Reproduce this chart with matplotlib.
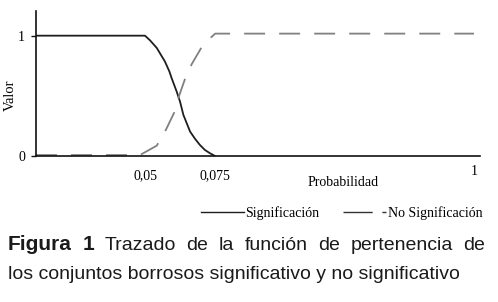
import numpy as np
import matplotlib
matplotlib.use("Agg")
import matplotlib.pyplot as plt
from matplotlib.lines import Line2D

# ---- data ----
sig_x = [0.0, 0.050, 0.0518, 0.0542, 0.0571, 0.0587, 0.0595, 0.0613, 0.0625, 0.0631,
         0.0637, 0.0661, 0.0679, 0.0696, 0.0714, 0.0732, 0.075]
sig_y = [1.0, 1.0, 0.961, 0.898, 0.786, 0.703, 0.648, 0.536, 0.453, 0.398,
         0.342, 0.203, 0.142, 0.092, 0.050, 0.023, 0.0]

nosig_x = [0.0, 0.0477, 0.0542, 0.0571, 0.0605, 0.0623, 0.0646, 0.0667, 0.0711,
           0.0739, 0.0757, 1.0]
nosig_y = [0.008, 0.008, 0.086, 0.200, 0.364, 0.508, 0.661, 0.764, 0.939,
           0.992, 1.017, 1.017]

x_ticks = [0.05, 0.075, 1.0]
x_ticklabels = ["0,05", "0,075", "1"]
y_ticks = [0, 1]
y_ticklabels = ["0", "1"]

series_names = ["Significación", "No Significación"]

caption_bold = ["Figura", "1"]
caption_line1 = ["Trazado", "de", "la", "función", "de", "pertenencia", "de"]
caption_line2 = "los conjuntos borrosos significativo y no significativo"

# piecewise axis (the original x axis is not linear)
_p = np.array([0.0, 0.05, 0.075, 1.0, 1.1])
_q = np.array([0.0, 109.0, 179.0, 438.0, 466.0])
def fwd(v):
    return np.interp(v, _p, _q)
def inv(v):
    return np.interp(v, _q, _p)

W, H = 498, 302
fig = plt.figure(figsize=(W / 100, H / 100), dpi=100)
ax = fig.add_axes([36 / W, 1 - 156 / H, 444 / W, 145 / H])
ax.set_xscale("function", functions=(fwd, inv))

serif = ["Liberation Serif", "DejaVu Serif"]
sans = ["Liberation Sans", "DejaVu Sans"]
FS = 10

ax.plot(sig_x, sig_y, color="#1e1e1e", lw=1.3, solid_joinstyle="round")
ax.plot(nosig_x, nosig_y, color="#808080", lw=1.3, dashes=(11.6, 7.8))

ax.set_xlim(0, inv(444.0))
ax.set_ylim(0, 1.205)

for s in ["top", "right"]:
    ax.spines[s].set_visible(False)
for s in ["left", "bottom"]:
    ax.spines[s].set_color("#111111")
    ax.spines[s].set_linewidth(1.2)

ax.set_xticks(x_ticks)
ax.set_xticklabels(x_ticklabels, fontfamily=serif, fontsize=FS)
ax.set_yticks(y_ticks)
ax.set_yticklabels(y_ticklabels, fontfamily=serif, fontsize=FS)
ax.tick_params(axis="x", length=0, pad=9.5)
ax.tick_params(axis="y", length=3.6, width=1.0, pad=4.3, color="#111111")
ax.get_xticklabels()[-1].set_y(0.03)

ax.text((343 - 36) / 444, (156 - 182) / 145, "Probabilidad", transform=ax.transAxes,
        ha="center", va="center", fontfamily=serif, fontsize=FS)
ax.text(-26 / 444, (156 - 95) / 145, "Valor", transform=ax.transAxes, rotation=90,
        ha="center", va="center", fontfamily=serif, fontsize=10.5)

h1 = Line2D([], [], color="#1e1e1e", lw=1.0)
h2 = Line2D([], [], color="#333333", lw=1.0, dashes=(21, 7))
fig.legend([h1, h2], series_names, loc="center", bbox_to_anchor=(341.5 / W, 1 - 213 / H),
           ncol=2, frameon=False, prop={"family": serif, "size": FS},
           handlelength=3.1, handletextpad=0.1, columnspacing=1.7)

# caption: line 1 justified between x=8 and x=485
fig.canvas.draw()
renderer = fig.canvas.get_renderer()
words = [(w, "bold", 15) for w in caption_bold] + [(w, "normal", 14) for w in caption_line1]
items = []
for w, wt, sz in words:
    t = fig.text(0, 1 - 250 / H, w, fontfamily=sans, fontsize=sz, fontweight=wt,
                 ha="left", va="baseline", color="#1a1a1a")
    items.append(t)
widths = [t.get_window_extent(renderer).width for t in items]
x0, x1 = 8.0, 485.0
gap = (x1 - x0 - sum(widths)) / (len(items) - 1)
x = x0
for t, wdt in zip(items, widths):
    t.set_x(x / W)
    x += wdt + gap
fig.text(8 / W, 1 - 279 / H, caption_line2, fontfamily=sans, fontsize=14,
         ha="left", va="baseline", color="#1a1a1a")

fig.savefig("out.png", dpi=100)
